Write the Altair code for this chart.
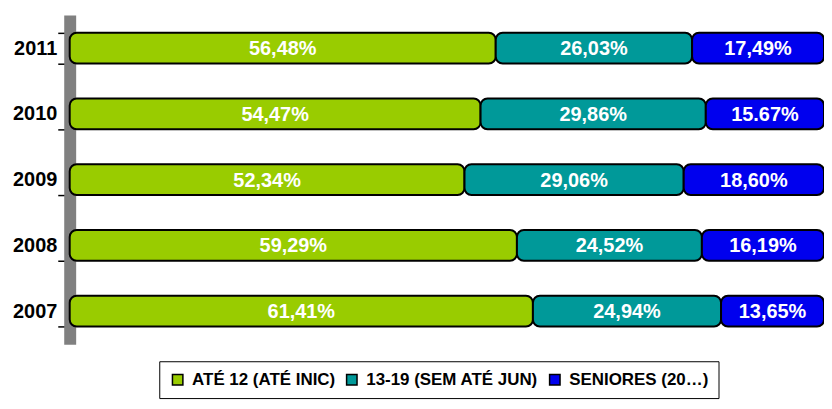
import altair as alt
import pandas as pd

years = ["2011", "2010", "2009", "2008", "2007"]
categories = ["ATÉ 12 (ATÉ INIC)", "13-19 (SEM ATÉ JUN)", "SENIORES (20…)"]
ate12 = [56.48, 54.47, 52.34, 59.29, 61.41]
juvenis = [26.03, 29.86, 29.06, 24.52, 24.94]
seniores = [17.49, 15.67, 18.60, 16.19, 13.65]
labels_ate12 = ["56,48%", "54,47%", "52,34%", "59,29%", "61,41%"]
labels_juvenis = ["26,03%", "29,86%", "29,06%", "24,52%", "24,94%"]
labels_seniores = ["17,49%", "15.67%", "18,60%", "16,19%", "13,65%"]
colors = ["#99CC00", "#009999", "#0000EE"]

rows = []
for i, y in enumerate(years):
    for k, (vals, labs) in enumerate([(ate12, labels_ate12), (juvenis, labels_juvenis), (seniores, labels_seniores)]):
        rows.append({"year": y, "category": categories[k], "order": k, "value": vals[i], "label": labs[i]})
df = pd.DataFrame(rows)

FONT = "Liberation Sans"

base = alt.Chart(df).transform_stack(
    stack="value", groupby=["year"], as_=["start", "end"], sort=[alt.SortField("order")]
).transform_calculate(mid="(datum.start + datum.end) / 2")

yenc = alt.Y(
    "year:N", sort=years, title=None,
    scale=alt.Scale(paddingInner=0.53, paddingOuter=0.27),
    axis=alt.Axis(
        domainColor="#808080", domainWidth=12, tickColor="black", tickSize=12, tickWidth=1.5,
        tickBand="extent", labelFont=FONT, labelFontSize=20, labelFontWeight="bold",
        labelColor="black", labelPadding=1, zindex=0, grid=False,
    ),
)

bars = base.mark_bar(stroke="black", strokeWidth=2, cornerRadius=7, height=31).encode(
    y=yenc,
    x=alt.X("start:Q", scale=alt.Scale(domain=[0, 100], nice=False, zero=True), axis=None),
    x2="end:Q",
    color=alt.Color(
        "category:N",
        scale=alt.Scale(domain=categories, range=colors),
        legend=alt.Legend(
            title=None, orient="none", legendX=90, legendY=348, direction="horizontal",
            strokeColor="black", fillColor="white", padding=10,
            symbolType="square", symbolSize=110, symbolStrokeColor="black", symbolStrokeWidth=1.5,
            labelFont=FONT, labelFontSize=17, labelFontWeight="bold", labelColor="black",
            labelLimit=400, columnPadding=8, labelOffset=6,
        ),
    ),
    order=alt.Order("order:Q"),
)

text = base.mark_text(
    color="white", font=FONT, fontSize=20, fontWeight="bold", baseline="middle", dy=1
).encode(
    y=alt.Y("year:N", sort=years),
    x=alt.X("mid:Q"),
    text="label:N",
)

chart = alt.layer(bars, text).properties(
    width=758, height=331,
    autosize=alt.AutoSizeParams(type="none"),
    padding={"left": 62, "top": 6, "right": 0, "bottom": 62},
    background="white",
).configure_view(stroke=None)

chart.save("out.html", embed_options={"renderer": "svg", "actions": False})
